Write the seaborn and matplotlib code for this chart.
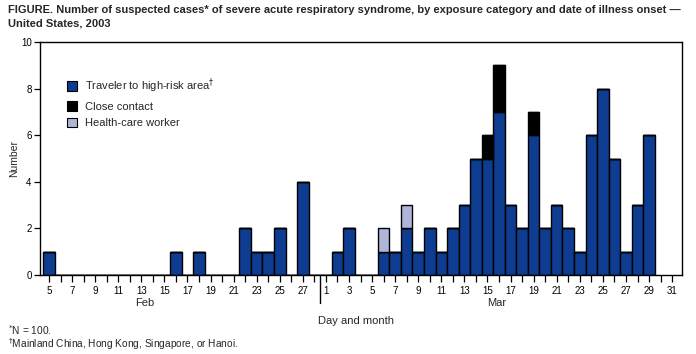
import matplotlib
matplotlib.use("Agg")
import matplotlib.pyplot as plt
import seaborn as sns
import pandas as pd
from matplotlib.patches import Patch

# ---- data ----
# day index: Feb 5 = 0 ... Feb 28 = 23, Mar 1 = 24 ... Mar 31 = 54
feb_days = [5, 16, 18, 22, 23, 24, 25, 27]
feb_traveler = [1, 1, 1, 2, 1, 1, 2, 4]

mar_days = [2, 3, 6, 7, 8, 9, 10, 11, 12, 13, 14, 15, 16, 17, 18, 19, 20,
            21, 22, 23, 24, 25, 26, 27, 28, 29]
mar_traveler = [1, 2, 1, 1, 2, 1, 2, 1, 2, 3, 5, 5, 7, 3, 2, 6, 2,
                3, 2, 1, 6, 8, 5, 1, 3, 6]
mar_close = [0, 0, 0, 0, 0, 0, 0, 0, 0, 0, 0, 1, 2, 0, 0, 1, 0,
             0, 0, 0, 0, 0, 0, 0, 0, 0]
mar_hcw = [0, 0, 1, 0, 1, 0, 0, 0, 0, 0, 0, 0, 0, 0, 0, 0, 0,
           0, 0, 0, 0, 0, 0, 0, 0, 0]

categories = ["Traveler to high-risk area", "Close contact", "Health-care worker"]
colors = ["#0d3c90", "#000000", "#aeb5d8"]
feb_tick_labels = list(range(5, 28, 2))
mar_tick_labels = list(range(1, 32, 2))

def idx_feb(d):
    return d - 5

def idx_mar(d):
    return 23 + d

rows = []
for d, t in zip(feb_days, feb_traveler):
    rows.append((idx_feb(d), categories[0], t))
for d, t, c, h in zip(mar_days, mar_traveler, mar_close, mar_hcw):
    rows.append((idx_mar(d), categories[0], t))
    if c:
        rows.append((idx_mar(d), categories[1], c))
    if h:
        rows.append((idx_mar(d), categories[2], h))
df = pd.DataFrame(rows, columns=["day", "cat", "n"])

sns.set_theme(style="ticks")
plt.rcParams["font.family"] = ["Liberation Sans", "DejaVu Sans"]

fig = plt.figure(figsize=(6.96, 3.54), dpi=100)
ax = fig.add_axes([40 / 696, 79 / 354, 641.7 / 696, 233 / 354])

sns.histplot(data=df, x="day", weights="n", hue="cat", multiple="stack",
             discrete=True, shrink=1.0,
             hue_order=[categories[2], categories[1], categories[0]],
             palette={categories[0]: colors[0], categories[1]: colors[1],
                      categories[2]: colors[2]},
             edgecolor="black", linewidth=1.0, alpha=1.0, ax=ax, legend=False)

ax.set_xlim(-0.78, 54.83)
ax.set_ylim(0, 10)
ax.set_yticks(range(0, 11, 2))
ax.tick_params(axis="y", labelsize=7, length=4, width=0.9, pad=2, colors="black")
ax.tick_params(axis="x", labelsize=7, length=5, width=0.9, pad=3, colors="black")

ticks = list(range(0, 55))
labels = []
for i in ticks:
    if i <= 23:
        d = i + 5
        labels.append(str(d) if d in feb_tick_labels else "")
    else:
        d = i - 23
        labels.append(str(d) if d in mar_tick_labels else "")
ax.set_xticks(ticks)
ax.set_xticklabels(labels)
ax.set_xlabel("")
ax.set_ylabel("Number", fontsize=7.5, labelpad=1)
for s in ax.spines.values():
    s.set_visible(True)
    s.set_linewidth(1.0)
    s.set_color("black")

# month divider
ax.plot([23.5, 23.5], [-0.05, -1.2], color="black", lw=1.0, clip_on=False,
        transform=ax.transData)

fig.text(145 / 696, 1 - 303 / 354, "Feb", fontsize=8, ha="center", va="center")
fig.text(497 / 696, 1 - 303 / 354, "Mar", fontsize=8, ha="center", va="center")
fig.text(356 / 696, 1 - 321 / 354, "Day and month", fontsize=8, ha="center", va="center")

# legend
handles = [Patch(facecolor=c, edgecolor="black", linewidth=0.8) for c in colors]
leg_labels = [categories[0] + r"$^{\dagger}$", categories[1], categories[2]]
leg = ax.legend(handles, leg_labels, loc="upper left",
                bbox_to_anchor=(0.035, 0.87), frameon=False, fontsize=8,
                handlelength=0.9, handleheight=0.9, handletextpad=0.7,
                labelspacing=0.55, borderaxespad=0)

# title
fig.text(8 / 696, 1 - 10 / 354,
         "FIGURE. Number of suspected cases* of severe acute respiratory syndrome, by exposure category and date of illness onset \u2014",
         fontsize=8.0, fontweight="bold", ha="left", va="center")
fig.text(8 / 696, 1 - 24 / 354, "United States, 2003",
         fontsize=8.0, fontweight="bold", ha="left", va="center")

# footnotes
fig.text(8 / 696, 1 - 330 / 354, r"$^{*}$N = 100.", fontsize=7.3, ha="left", va="center")
fig.text(8 / 696, 1 - 344 / 354, r"$^{\dagger}$Mainland China, Hong Kong, Singapore, or Hanoi.",
         fontsize=7.3, ha="left", va="center")

fig.savefig("out.png", dpi=100)
